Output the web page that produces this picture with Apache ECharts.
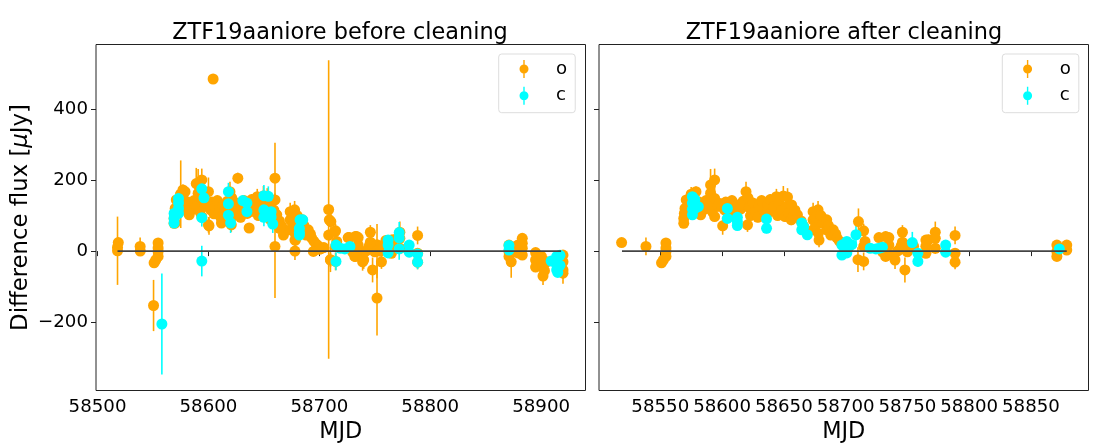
<!DOCTYPE html>
<html>
<head>
<meta charset="utf-8">
<style>
html,body{margin:0;padding:0;background:#fff;}
#main{width:1102px;height:448px;}
</style>
<script src="https://cdn.jsdelivr.net/npm/echarts@6/dist/echarts.min.js"></script>
</head>
<body>
<div id="main"></div>
<script>
// rows are [mjd, flux, error]
var orangeKept = [
[58518.7,24,8],[58538.4,13,25],[58554.6,23,10],[58554.6,9,10],[58554.6,-1,8],[58554.6,-15,8],[58551,-33,10],[58552.5,-25,8],
[58569,78,12],[58569,92,12],[58569.5,106,12],[58570,120,12],[58571,144,14],[58573,130,12],[58575,160,20],[58578.9,167,15],
[58577,148,12],[58579,125,12],[58580.8,139,14],[58580.8,120,12],[58582.7,102,10],[58584,135,12],[58586,118,12],[58587,142,14],
[58590.7,186,45],[58594,200,32],[58590.7,163,20],[58590.7,139,14],[58594,148,20],[58589,124,15],[58594,97,14],[58592,112,14],
[58597,126,14],[58598,134,15],[58600.5,71,25],[58602,116,14],[58603,138,14],[58605,105,14],[58606,125,16],[58608,142,14],
[58610,112,15],[58611,95,18],[58613,130,14],[58615,118,14],[58617,140,14],[58619.4,167,28],[58621,150,18],[58620.6,74,20],
[58622,122,15],[58623,100,15],[58625,135,15],[58627,112,14],[58629,95,14],[58630,128,14],[58632,142,14],[58633,118,14],
[58635,106,15],[58637,130,14],[58639,145,15],[58640,112,14],[58642,125,14],[58644,153,22],[58645,100,14],[58646,136,14],
[58648,115,14],[58649.6,155,28],[58651,97,15],[58652,125,14],[58653,152,25],[58654,108,14],[58656.3,130,14],[58656,88,15],
[58658,100,14],[58661,102,14],[58659,115,14],[58664,85,12],[58666,70,10],
[58673.7,111,25],[58677.7,116,25],[58673.7,88,18],[58673.7,60,14],[58676,75,16],[58676,95,20],[58678.5,31,20],[58678,50,14],
[58680,100,16],[58682,78,14],[58684.7,88,14],[58684.7,60,12],[58686,72,14],[58688,45,12],[58690,60,12],[58692,48,12],
[58693,37,12],[58695,28,12],[58697,20,10],[58699,15,10],[58702,8,10],
[58710.4,83,37],[58714.6,57,20],[58715.7,27,15],[58714.6,13,12],[58710,-24,35],[58714.6,-29,25],[58727,38,14],[58732.4,41,14],
[58735,38,14],[58735,17,12],[58732.4,-15,14],[58730,-3,12],[58737,-10,10],[58740,-25,25],[58742,0,12],[58744,5,12],[58745,15,12],
[58746,53,20],[58746,25,14],[58748,-53,35],[58748,8,12],[58750,-2,12],[58752,18,14],[58755,14,12],[58765,31,14],[58765,14,12],
[58765,-6,12],[58767,32,14],[58772.6,53,30],[58772.6,36,20],[58772.6,8,16],[58788.6,44,25],[58788.6,-6,14],[58788.6,-31,20],
[58871,17,10],[58871,-1,10],[58871,-15,10],[58879,17,10],[58879,3,10],[58878,10,10]
];
// only in the left panel
var orangeRemoved = [
[58604.2,484,6],[58550.5,-153,72],[58708.4,117,420],[58660,205,100],[58660,13,145],[58752,-132,105],[58752,0,76],[58518,1,96],
[58518,11,12],[58538.5,0,12],[58575,160,95],[58577,172,15],[58582,107,12],[58570,79,12],[58589,190,44],[58600,167,40],[58600,74,22],
[58611.7,79,14],[58626.5,205,15],[58636.7,65,14],[58660,144,18],[58661.6,102,14],[58664,64,12],[58667.6,45,12],[58690,51,12],
[58694.6,-1,12],[58678,0,25],[58678,31,14],[58700,5,12],[58704,10,12],[58709,88,20],[58708.4,45,16],[58714,55,14],[58710,-25,20],
[58726,38,14],[58733.6,41,14],[58732,-15,14],[58739,-30,25],[58755,0,12],[58756,-30,20],[58760,30,14],[58764,15,12],
[58873,-30,45],[58883,36,14],[58883,22,12],[58883,8,12],[58883,-11,12],[58879,-5,10],
[58895,-4,12],[58895,-25,12],[58895,-45,14],[58900.3,-15,12],[58900.3,-35,12],[58901.7,-44,14],[58901.7,-70,25],[58903,-55,16],
[58905,-30,12],[58919.7,-11,14],[58919.7,-30,14],[58919.7,-53,25],[58919.7,-62,30]
];
var cyanBefore = [
[58573,148,14],[58573,135,14],[58573,120,14],[58573,106,14],[58569,106,12],[58569,92,12],[58569,79,12],[58594,175,18],[58596,150,16],
[58594,94,25],[58594,-28,43],[58558,-205,142],[58618,167,25],[58618,133,18],[58618,101,18],[58620,79,28],[58631,142,14],[58634.7,135,14],
[58634.7,111,14],[58650,156,30],[58654,154,28],[58650,116,18],[58650,95,25],[58656.5,111,16],[58656.5,96,16],[58658,76,25],
[58682.6,88,14],[58685,88,14],[58682,64,14],[58682,53,14],[58682,45,14],[58715,17,14],[58715,-29,25],[58719,8,12],[58723,6,12],
[58727.6,13,12],[58762,31,14],[58762,17,12],[58762,-5,12],[58772,52,30],[58772,37,20],[58772,6,30],[58781,17,12],[58781,-3,12],
[58788.6,-8,14],[58788.6,-31,20],[58871,16,14],[58871,3,12],[58909,-28,12],[58912,-30,14],[58914,-15,14],[58914,-30,14],[58914,-53,14],
[58915,-60,12],[58917,-12,14],[58917,-40,14]
];
var cyanAfter = [
[58576,153,18],[58576,135,14],[58576,118,14],[58576,102,14],[58578,145,14],[58578,120,14],[58580.8,125,12],[58604.3,120,14],[58604.3,92,14],
[58612.4,95,14],[58612.4,83,14],[58612.4,72,14],[58636,90,14],[58636,64,14],[58664.5,79,14],[58664.5,60,14],[58666,68,12],[58669,46,14],
[58697,17,12],[58697,-11,12],[58701,27,12],[58701,9,12],[58701,-5,12],[58705,18,14],[58708.4,46,30],[58720,8,12],[58724.5,6,12],
[58727,8,12],[58729.8,11,12],[58754,24,30],[58758.5,-6,14],[58758.5,-29,14],[58781,17,12],[58781,-3,12],[58873,6,10]
];
var zeroBefore = [[58518,0],[58918,0]];
var zeroAfter = [[58519,0],[58879,0]];
var xTicksBefore = [58500,58600,58700,58800,58900];
var xTicksAfter = [58550,58600,58650,58700,58750,58800,58850];
var yTicks = [-200,0,200,400];

var font = 'DejaVu Sans';
var legendIcon = 'path://M-0.7,-9 L0.7,-9 L0.7,9 L-0.7,9 Z M-4.5,0 a4.5,4.5 0 1,1 9,0 a4.5,4.5 0 1,1 -9,0 Z';

function errBars(rows, color, i) {
    return {
        type: 'custom',
        xAxisIndex: i,
        yAxisIndex: i,
        silent: true,
        data: rows,
        encode: {x: 0, y: 1},
        renderItem: function (params, api) {
            var x = api.value(0), y = api.value(1), e = api.value(2);
            var a = api.coord([x, y - e]);
            var b = api.coord([x, y + e]);
            return {
                type: 'line',
                shape: {x1: a[0], y1: a[1], x2: b[0], y2: b[1]},
                style: {stroke: color, lineWidth: 1.6}
            };
        }
    };
}
function points(name, rows, color, i) {
    return {
        name: name,
        type: 'scatter',
        xAxisIndex: i,
        yAxisIndex: i,
        symbolSize: 11,
        itemStyle: {color: color, opacity: 1},
        data: rows.map(function (r) { return [r[0], r[1]]; })
    };
}
function zero(rows, i) {
    return {
        type: 'line',
        xAxisIndex: i,
        yAxisIndex: i,
        silent: true,
        showSymbol: false,
        lineStyle: {color: '#444', width: 1.6},
        data: rows
    };
}
function xAxis(i, min, max, ticks) {
    return {
        type: 'value',
        gridIndex: i,
        min: min,
        max: max,
        name: 'MJD',
        nameLocation: 'middle',
        nameGap: 29,
        nameTextStyle: {fontFamily: font, fontSize: 22.4, color: '#000'},
        splitLine: {show: false},
        axisLine: {show: false},
        axisTick: {show: true, length: 5, customValues: ticks, lineStyle: {color: '#222', width: 1}},
        axisLabel: {customValues: ticks, fontFamily: font, fontSize: 18.2, color: '#000', margin: 8,
            formatter: function (v) { return String(v); }}
    };
}
function legend(left) {
    return {
        left: left,
        top: 54,
        orient: 'vertical',
        align: 'left',
        data: ['o', 'c'],
        icon: legendIcon,
        itemWidth: 54.2,
        itemHeight: 18,
        itemGap: 8.7,
        padding: [6, 8, 8, 20.8],
        borderColor: '#ddd',
        borderWidth: 1,
        borderRadius: 3,
        backgroundColor: '#fff',
        selectedMode: false,
        textStyle: {fontFamily: font, fontSize: 18.2, color: '#000'}
    };
}

var orangeBefore = orangeKept.concat(orangeRemoved);

var option = {
    animation: false,
    backgroundColor: '#fff',
    title: [
        {text: 'ZTF19aaniore before cleaning', left: 335, top: 17, textAlign: 'center',
            textStyle: {fontFamily: font, fontSize: 22.4, fontWeight: 'normal', color: '#000'}},
        {text: 'ZTF19aaniore after cleaning', left: 839, top: 17, textAlign: 'center',
            textStyle: {fontFamily: font, fontSize: 22.4, fontWeight: 'normal', color: '#000'}}
    ],
    legend: [legend(498.7), legend(1002.3)],
    grid: [
        {left: 96, top: 44.5, width: 489.5, height: 346, show: true, borderColor: '#222', borderWidth: 1,
            backgroundColor: 'transparent', outerBoundsMode: 'none'},
        {left: 599, top: 44.5, width: 489.5, height: 346, show: true, borderColor: '#222', borderWidth: 1,
            backgroundColor: 'transparent', outerBoundsMode: 'none'}
    ],
    xAxis: [
        xAxis(0, 58498.6, 58940, xTicksBefore),
        xAxis(1, 58500.4, 58896.6, xTicksAfter)
    ],
    yAxis: [
        {
            type: 'value', gridIndex: 0, min: -392, max: 581,
            name: 'Difference flux [{mu|\u03bc}Jy]',
            nameLocation: 'middle',
            nameGap: 63,
            nameTextStyle: {fontFamily: font, fontSize: 22.8, color: '#000',
                rich: {mu: {fontFamily: font, fontSize: 22.8, fontStyle: 'italic', color: '#000'}}},
            splitLine: {show: false},
            axisLine: {show: false},
            axisTick: {show: true, length: 5, customValues: yTicks, lineStyle: {color: '#222', width: 1}},
            axisLabel: {customValues: yTicks, fontFamily: font, fontSize: 18.2, color: '#000', margin: 8,
                formatter: function (v) { return String(v).replace('-', '\u2212'); }}
        },
        {
            type: 'value', gridIndex: 1, min: -392, max: 581,
            splitLine: {show: false},
            axisLine: {show: false},
            axisTick: {show: true, length: 5, customValues: yTicks, lineStyle: {color: '#222', width: 1}},
            axisLabel: {show: false, customValues: yTicks}
        }
    ],
    series: [
        zero(zeroBefore, 0),
        errBars(orangeBefore, 'orange', 0),
        points('o', orangeBefore, 'orange', 0),
        errBars(cyanBefore, 'cyan', 0),
        points('c', cyanBefore, 'cyan', 0),
        zero(zeroAfter, 1),
        errBars(orangeKept, 'orange', 1),
        points('o', orangeKept, 'orange', 1),
        errBars(cyanAfter, 'cyan', 1),
        points('c', cyanAfter, 'cyan', 1)
    ]
};
var myChart = echarts.init(document.getElementById('main'));
myChart.setOption(option);
</script>
</body>
</html>
